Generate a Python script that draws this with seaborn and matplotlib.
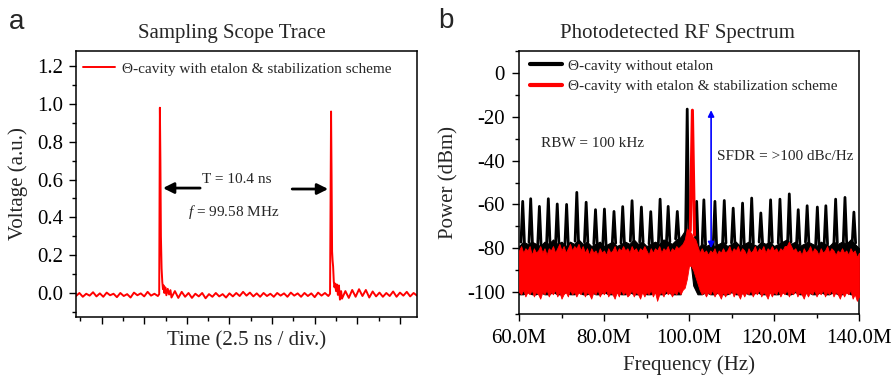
import numpy as np
import matplotlib
matplotlib.use("Agg")
import matplotlib.pyplot as plt
import seaborn as sns
from matplotlib.lines import Line2D
from matplotlib.ticker import MultipleLocator, FuncFormatter

# ---------------- data: panel a (sampling scope trace) ----------------
scope_time_ns = [
    0.0, 0.2, 0.4, 0.6, 0.8, 1.0, 1.2, 1.4, 1.6, 1.8,
    2.0, 2.2, 2.4, 2.6, 2.8, 3.0, 3.2, 3.4, 3.6, 3.8,
    4.0, 4.2, 4.4, 4.6, 4.8,
    4.88, 4.92, 4.95, 4.98, 5.02, 5.06, 5.10, 5.14, 5.18, 5.24, 5.30, 5.38, 5.46, 5.54,
    5.6, 5.8, 6.0, 6.2, 6.4, 6.6, 6.8, 7.0, 7.2, 7.4,
    7.6, 7.8, 8.0, 8.2, 8.4, 8.6, 8.8, 9.0, 9.2, 9.4,
    9.6, 9.8, 10.0, 10.2, 10.4, 10.6, 10.8, 11.0, 11.2, 11.4,
    11.6, 11.8, 12.0, 12.2, 12.4, 12.6, 12.8, 13.0, 13.2, 13.4,
    13.6, 13.8, 14.0, 14.2, 14.4, 14.6, 14.8,
    14.90, 14.96, 14.99, 15.02, 15.05, 15.08, 15.12, 15.16, 15.20, 15.25, 15.30, 15.36, 15.42, 15.48, 15.55,
    15.6, 15.8, 16.0, 16.2, 16.4, 16.6, 16.8, 17.0, 17.2, 17.4,
    17.6, 17.8, 18.0, 18.2, 18.4, 18.6, 18.8, 19.0, 19.2, 19.4,
    19.6, 19.8, 20.0,
]
scope_voltage = [
    -0.016, 0.000, -0.020, -0.004, -0.014, 0.004, -0.018, -0.002, -0.020, 0.002,
    -0.012, -0.004, -0.022, 0.000, -0.016, -0.006, -0.024, 0.002, -0.012, -0.002,
    -0.018, 0.006, -0.014, -0.004, -0.016,
    -0.006, 0.98, 0.70, 0.30, 0.13, 0.06, 0.02, 0.04, 0.00, 0.03, -0.012, 0.022, -0.008, 0.015,
    -0.024, 0.010, -0.026, 0.006, -0.020, 0.000, -0.026, -0.004, -0.018, 0.000,
    -0.028, -0.006, -0.020, 0.000, -0.018, -0.006, -0.024, -0.002, -0.018, 0.000,
    -0.016, 0.006, -0.014, 0.002, -0.018, -0.002, -0.020, 0.000, -0.016, -0.004,
    -0.020, 0.000, -0.014, -0.002, -0.020, 0.002, -0.014, -0.002, -0.020, 0.000,
    -0.016, -0.002, -0.022, 0.002, -0.014, 0.000, -0.016,
    -0.004, 0.96, 0.62, 0.22, 0.17, 0.14, 0.06, 0.03, 0.05, 0.01, 0.045, -0.01, 0.04, -0.035, 0.01,
    -0.030, 0.010, -0.026, 0.016, -0.020, 0.020, -0.016, 0.016, -0.024, 0.008,
    -0.018, 0.002, -0.020, 0.000, -0.016, 0.008, -0.020, 0.002, -0.014, 0.006,
    -0.018, 0.000, -0.014,
]

# ---------------- data: panel b (RF spectrum, MHz / dBm) ----------------
# black trace: comb spurs
comb_freq_mhz = [60.87, 62.75, 64.8, 66.9, 69.0, 71.2, 73.6, 75.8, 78.0, 80.1,
                 82.35, 84.4, 86.6, 88.8, 91.0, 93.2, 95.1, 97.25,
                 101.8, 103.5, 106.1, 108.3, 110.4, 112.6, 114.75, 116.9, 119.2,
                 121.4, 123.6, 125.7, 127.8, 130.2, 132.2, 134.5, 136.7, 138.8]
comb_peak_dbm = [-58.6, -57.4, -60.9, -57.4, -59.8, -60.0, -54.5, -59.0, -62.4, -62.1,
                 -63.2, -61.0, -58.3, -61.2, -63.3, -57.6, -60.9, -63.2,
                 -58.6, -57.9, -58.6, -58.2, -61.7, -59.4, -57.1, -63.9, -57.9,
                 -57.6, -55.2, -62.4, -60.6, -61.2, -60.6, -57.6, -56.8, -63.5]
# black noise floor envelope, 1 MHz sampling 60..140 MHz
black_floor_upper = [-79, -77, -78, -77, -78, -79, -77, -78, -76, -78,
                     -77, -79, -77, -78, -76, -78, -77, -79, -78, -77,
                     -79, -78, -77, -79, -78, -77, -78, -76, -78, -77,
                     -79, -78, -77, -78, -76, -77, -78, -76, -75, -72,
                     -76, -90, -80, -78, -79, -78, -79, -78, -77, -79,
                     -78, -77, -79, -78, -77, -78, -79, -77, -78, -77,
                     -79, -78, -77, -76, -78, -77, -79, -78, -77, -78,
                     -79, -77, -78, -79, -77, -78, -77, -78, -76, -78, -80]
black_floor_lower = [-101, -101, -100, -101, -101, -100, -101, -101, -100, -101,
                     -101, -100, -101, -101, -100, -101, -101, -100, -101, -101,
                     -100, -101, -101, -100, -101, -101, -100, -101, -101, -100,
                     -101, -101, -100, -101, -101, -100, -101, -101, -101, -90,
                     -80, -97, -101, -101, -100, -101, -101, -100, -101, -101,
                     -100, -101, -101, -100, -101, -101, -100, -101, -101, -100,
                     -101, -101, -100, -101, -101, -100, -101, -101, -100, -101,
                     -101, -100, -101, -101, -100, -101, -101, -100, -101, -101, -101]
black_carrier_mhz = [99.2, 99.58, 99.95]
black_carrier_dbm = [-74, -16.5, -74]

# red trace: noise band envelope, 0.5 MHz sampling 60..140 MHz
red_band_upper = [
    -81, -79, -82, -80, -81, -79, -83, -80, -82, -81,
    -79, -82, -80, -83, -80, -81, -79, -82, -80, -78,
    -81, -79, -82, -80, -78, -81, -79, -80, -78, -81,
    -79, -82, -80, -83, -80, -82, -81, -83, -80, -82,
    -81, -83, -80, -82, -81, -79, -82, -80, -81, -79,
    -81, -80, -82, -79, -81, -80, -82, -80, -81, -79,
    -81, -83, -80, -82, -80, -81, -79, -82, -80, -81,
    -79, -82, -80, -81, -79, -80, -79, -78, -76, -71,
    -72, -73, -75, -76, -79, -82, -80, -82, -81, -83,
    -81, -82, -80, -83, -81, -82, -80, -82, -81, -79,
    -82, -80, -81, -79, -82, -80, -81, -83, -80, -82,
    -81, -79, -82, -80, -81, -79, -82, -80, -81, -79,
    -81, -80, -82, -80, -81, -79, -79, -77, -79, -81,
    -80, -82, -81, -83, -80, -82, -81, -79, -82, -80,
    -81, -83, -80, -82, -81, -79, -82, -80, -81, -83,
    -81, -82, -80, -82, -81, -83, -80, -82, -81, -84, -82,
]
red_band_lower = [
    -100, -101, -99, -102, -100, -101, -99, -102, -100, -101,
    -103, -100, -101, -99, -102, -100, -101, -99, -102, -100,
    -103, -101, -100, -102, -99, -101, -100, -102, -100, -101,
    -99, -102, -100, -101, -103, -100, -101, -99, -102, -100,
    -101, -99, -102, -100, -101, -103, -100, -102, -99, -101,
    -100, -102, -101, -99, -102, -100, -101, -103, -100, -102,
    -100, -101, -99, -102, -100, -104, -101, -100, -102, -99,
    -101, -100, -102, -100, -101, -99, -101, -99, -98, -94,
    -88, -88, -90, -93, -96, -99, -101, -100, -102, -100,
    -101, -99, -102, -100, -101, -103, -100, -102, -100, -101,
    -99, -102, -100, -101, -103, -100, -102, -100, -101, -99,
    -102, -100, -101, -99, -102, -100, -101, -103, -100, -102,
    -100, -101, -99, -102, -100, -101, -99, -102, -100, -101,
    -99, -102, -100, -101, -103, -100, -102, -100, -101, -99,
    -102, -100, -101, -99, -102, -100, -101, -99, -102, -100,
    -101, -103, -100, -102, -100, -101, -99, -103, -101, -104, -102,
]
red_carrier_mhz = [100.3, 100.8, 101.3]
red_carrier_dbm = [-72, -17, -74]

sfdr_freq_mhz = 105.2
sfdr_top_dbm = -17
sfdr_bottom_dbm = -80

# ---------------- style ----------------
sns.set_theme(style="ticks")
plt.rcParams["font.family"] = ["Liberation Serif", "DejaVu Serif"]
plt.rcParams["mathtext.fontset"] = "custom"
plt.rcParams["mathtext.rm"] = "Liberation Serif"
plt.rcParams["mathtext.it"] = "Liberation Serif:italic"
plt.rcParams["axes.unicode_minus"] = False

W, H = 894, 375
fig = plt.figure(figsize=(W / 100, H / 100), dpi=100)
ax1 = fig.add_axes([76 / W, 1 - 317 / H, 341 / W, 266 / H])
ax2 = fig.add_axes([519 / W, 1 - 314 / H, 340 / W, 263 / H])

for ax in (ax1, ax2):
    for s in ax.spines.values():
        s.set_color("black")
        s.set_linewidth(1.1)
    ax.tick_params(which="both", direction="out", color="black", width=1.0,
                   labelcolor="black", labelsize=15, top=False, right=False)
    ax.tick_params(which="major", length=5)
    ax.tick_params(which="minor", length=3)

# ---------------- panel a ----------------
sns.lineplot(x=scope_time_ns, y=scope_voltage, ax=ax1, color="#ff0000", lw=1.4,
             sort=False, estimator=None, legend=False)
ax1.set_xlim(0, 20)
ax1.set_ylim(-0.127, 1.28)
ax1.xaxis.set_major_locator(MultipleLocator(2.5, offset=1.5))
ax1.xaxis.set_minor_locator(MultipleLocator(1.25, offset=0.25))
ax1.yaxis.set_major_locator(MultipleLocator(0.2))
ax1.yaxis.set_minor_locator(MultipleLocator(0.1))
ax1.yaxis.set_major_formatter(FuncFormatter(lambda v, p: f"{v:.1f}"))
ax1.tick_params(axis="x", labelbottom=False)
ax1.tick_params(axis="y", pad=4)
ax1.set_xlabel("Time (2.5 ns / div.)", fontsize=15)
ax1.set_ylabel("Voltage (a.u.)", fontsize=15)
ax1.xaxis.set_label_coords(0.5, -0.055)
ax1.yaxis.set_label_coords(-0.141, 0.5)
ax1.legend(handles=[Line2D([], [], color="#ff0000", lw=1.4)],
           labels=["\u0398-cavity with etalon & stabilization scheme"],
           loc="upper left", bbox_to_anchor=(7 / 341, 1 - 11 / 266), frameon=False,
           fontsize=11, handlelength=2.1, handletextpad=0.45, borderpad=0,
           borderaxespad=0)
ax1.annotate("", xy=(5.1, 0.555), xytext=(7.28, 0.555),
             arrowprops=dict(arrowstyle="-|>", lw=2, color="black",
                             mutation_scale=16, shrinkA=0, shrinkB=0))
ax1.annotate("", xy=(14.79, 0.55), xytext=(12.68, 0.55),
             arrowprops=dict(arrowstyle="-|>", lw=2, color="black",
                             mutation_scale=16, shrinkA=0, shrinkB=0))
ax1.text(9.45, 0.60, "T = 10.4 ns", ha="center", va="center", fontsize=11)
ax1.text(9.27, 0.43, "$f$ = 99.58 MHz", ha="center", va="center", fontsize=11)

# ---------------- panel b ----------------
freq_black = np.linspace(60, 140, len(black_floor_upper))
freq_red = np.linspace(60, 140, len(red_band_upper))
ax2.fill_between(freq_black, black_floor_lower, black_floor_upper,
                 color="black", lw=0.8, zorder=2)
for f, p in zip(comb_freq_mhz, comb_peak_dbm):
    base = np.interp(f, freq_black, black_floor_upper)
    ax2.plot([f - 0.4, f, f + 0.4], [base, p, base], color="black", lw=2.0, zorder=2)
sns.lineplot(x=black_carrier_mhz, y=black_carrier_dbm, ax=ax2, color="black", lw=2.0,
             sort=False, estimator=None, legend=False, zorder=2)
ax2.fill_between(freq_red, red_band_lower, red_band_upper, color="#ff0000",
                 lw=0.6, zorder=3)
sns.lineplot(x=red_carrier_mhz, y=red_carrier_dbm, ax=ax2, color="#ff0000", lw=2.2,
             sort=False, estimator=None, legend=False, zorder=3)
ax2.annotate("", xy=(sfdr_freq_mhz, sfdr_top_dbm), xytext=(sfdr_freq_mhz, sfdr_bottom_dbm),
             arrowprops=dict(arrowstyle="<|-|>", lw=1.2, color="blue",
                             mutation_scale=9, shrinkA=0, shrinkB=0), zorder=4)
ax2.set_xlim(60, 140)
ax2.set_ylim(-110, 10)
ax2.xaxis.set_major_locator(MultipleLocator(20))
ax2.xaxis.set_minor_locator(MultipleLocator(10))
ax2.yaxis.set_major_locator(MultipleLocator(20))
ax2.yaxis.set_minor_locator(MultipleLocator(10))
ax2.xaxis.set_major_formatter(FuncFormatter(lambda v, p: f"{v:.1f}M"))
ax2.yaxis.set_major_formatter(FuncFormatter(lambda v, p: f"{v:.0f}"))
ax2.tick_params(axis="y", pad=5)
ax2.tick_params(axis="x", pad=6)
ax2.set_xlabel("Frequency (Hz)", fontsize=15)
ax2.set_ylabel("Power (dBm)", fontsize=15)
ax2.xaxis.set_label_coords(0.5, -0.156)
ax2.yaxis.set_label_coords(-0.179, 0.5)
ax2.legend(handles=[Line2D([], [], color="black", lw=3),
                    Line2D([], [], color="#ff0000", lw=3)],
           labels=["\u0398-cavity without etalon",
                   "\u0398-cavity with etalon & stabilization scheme"],
           loc="upper left", bbox_to_anchor=(11 / 340, 1 - 8 / 263), frameon=False,
           fontsize=11, handlelength=2.1, handletextpad=0.4, borderpad=0,
           borderaxespad=0, labelspacing=0.45)
ax2.text(77.3, -32, "RBW = 100 kHz", ha="center", va="center", fontsize=11)
ax2.text(106.5, -38, "SFDR = >100 dBc/Hz", ha="left", va="center", fontsize=11)

# ---------------- titles / panel letters ----------------
fig.text(232 / W, 1 - 38 / H, "Sampling Scope Trace", ha="center", va="baseline", fontsize=15)
fig.text(677 / W, 1 - 38 / H, "Photodetected RF Spectrum", ha="center", va="baseline", fontsize=15)
fig.text(9 / W, 1 - 29 / H, "a", ha="left", va="baseline", fontsize=20,
         family=["Liberation Sans", "DejaVu Sans"])
fig.text(438 / W, 1 - 28 / H, "b", ha="left", va="baseline", fontsize=20,
         family=["Liberation Sans", "DejaVu Sans"])

fig.savefig("out.png", dpi=100)
